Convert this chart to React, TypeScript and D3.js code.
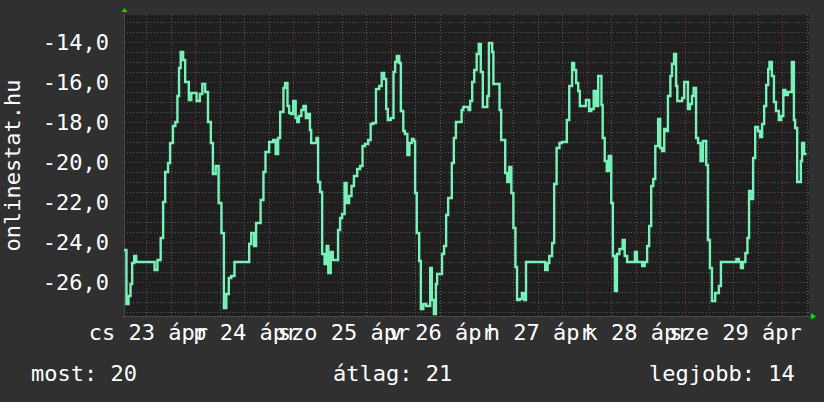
import React, { useRef, useEffect } from 'react';
import * as d3 from "d3";

// hours since the left edge of the graph (23 ápr 06:32) and the reading at that moment
const hours = [
  0, 0.6, 1.1, 1.6, 2.0, 2.5, 3.0, 7.5, 8.2, 9.0, 9.6, 10.1, 10.8, 11.3, 12.0, 12.6, 13.1, 13.5, 13.9, 14.5,
  15.0, 15.9, 16.5, 17.8, 18.6, 19.2, 19.9, 20.6, 21.3, 21.8, 22.5, 23.2, 23.9, 24.5, 25.1, 25.7, 26.3, 27.1,
  30.7, 31.2, 31.9, 32.4, 33.5, 34.2, 34.7, 35.6, 36.6, 37.2, 37.8, 38.3, 39.1, 39.5, 40.1, 40.5, 41.0, 41.5,
  42.1, 42.5, 42.9, 43.5, 44.0, 44.6, 45.1, 45.6, 45.9, 47.2, 47.6, 48.1, 48.6, 49.2, 49.7, 50.1, 50.7, 51.2,
  52.5, 53.0, 53.5, 54.1, 54.6, 55.2, 55.8, 56.4,
  57.2, 57.9, 58.5, 59.1, 59.9, 60.5, 61.1, 61.8, 62.6, 63.2, 63.8, 64.3, 64.7, 65.4, 66.1, 66.5, 66.9, 67.5,
  67.9, 68.5, 68.9, 69.5, 70.0, 70.6, 71.0, 71.4, 71.8, 72.4, 72.8, 73.4, 74.1, 75.1, 75.5, 76.0, 76.5, 76.8,
  78.0, 78.5, 79.0, 79.5, 80.4, 80.9, 81.4, 82.8, 83.2,
  84.5, 84.9, 85.4, 85.9, 86.5, 87.0, 87.5, 88.0, 89.1, 89.5, 90.3, 90.6, 92.1, 92.5, 93.5, 94.0, 94.5, 95.0,
  95.5, 96.0, 96.4, 97.0, 97.6, 98.2, 98.6, 103.3, 103.9, 104.3, 105.0, 105.5, 106.1, 106.8, 107.4, 108.6,
  109.2, 109.9, 110.4, 110.9, 111.4, 111.8,
  113.3, 114.1, 114.6, 115.2, 115.8, 116.3, 117.1, 117.4, 117.9, 118.4, 118.9, 119.5, 119.9, 120.4, 120.9,
  121.5, 122.3, 122.8, 123.4, 125.3, 125.8, 127.1, 127.7, 128.3, 128.8, 129.3, 129.8, 130.3, 131.0, 131.5,
  132.0, 132.5, 133.0, 133.4, 134.0, 134.4, 134.9, 135.4, 135.7, 136.9, 137.4, 138.3, 138.8, 139.3, 139.7,
  140.3, 140.8,
  141.4, 142.0, 142.8, 143.2, 143.7, 144.2, 145.0, 145.9, 146.4, 150.2, 150.8, 151.3, 151.8, 152.4, 152.9,
  153.3, 153.7, 154.3, 154.8, 155.5, 156.0, 156.5, 157.0, 157.5, 158.0, 158.3, 158.9, 159.4, 159.9, 160.6,
  161.2, 161.7, 162.2, 162.8, 163.8, 164.3, 164.6, 165.1, 166.0, 166.3, 166.8, 167.4,
];

const temps = [
  -24.4, -27.1, -26.7, -26.1, -25.05, -24.7, -25.0, -25.4, -24.9, -23.8, -22.0, -20.5, -20.05, -19.05, -18.2, -18.0, -16.7, -15.3, -14.5, -14.9,
  -16.0, -16.9, -16.55, -16.95, -16.6, -16.1, -16.5, -18.0, -19.05, -20.6, -20.2, -22.05, -23.55, -27.3, -26.6, -25.8, -25.7, -25.0,
  -24.1, -23.55, -24.2, -23.05, -21.9, -20.5, -19.5, -19.0, -18.9, -19.6, -18.8, -17.5, -16.3, -16.05, -17.2, -17.55, -17.6, -16.95,
  -17.8, -18.0, -17.7, -17.4, -17.2, -17.8, -17.6, -18.4, -19.05, -18.8, -21.0, -21.5, -24.6, -25.1, -24.2, -25.55, -24.5, -24.9,
  -23.4, -22.8, -22.6, -21.05, -22.05, -21.7, -21.2, -20.7,
  -20.35, -20.2, -19.2, -19.1, -18.9, -18.1, -18.05, -16.35, -16.2, -15.55, -15.85, -17.35, -17.9, -17.8, -15.5, -15.0, -14.7, -15.05,
  -17.45, -18.45, -18.6, -19.65, -19.05, -18.85, -18.95, -21.55, -23.55, -24.95, -27.35, -27.1, -27.2, -25.3, -26.9, -27.6, -26.1, -25.6,
  -24.6, -24.2, -22.65, -21.8, -20.05, -18.8, -18.0, -17.4, -17.25,
  -17.4, -16.95, -16.0, -15.4, -14.6, -14.1, -15.5, -17.25, -16.7, -14.05, -14.5, -16.1, -17.4, -18.9, -20.55, -21.0, -20.25, -21.55,
  -23.3, -25.25, -26.9, -26.85, -26.55, -26.9, -25.0, -25.4, -25.05, -24.7, -24.05, -21.1, -19.3, -19.05, -19.0, -17.9,
  -16.2, -15.05, -15.4, -16.05, -16.45, -17.2,
  -16.9, -17.45, -17.35, -16.45, -17.2, -15.7, -17.15, -18.8, -19.95, -20.45, -19.7, -22.05, -24.7, -26.45, -24.6,
  -24.35, -23.9, -24.7, -25.0, -24.5, -25.0, -25.2, -25.0, -24.2, -23.2, -21.2, -20.85, -19.2, -17.85, -19.3,
  -19.45, -18.35, -18.45, -16.7, -15.7, -15.1, -14.6, -16.2, -16.95, -16.8, -16.0, -17.35, -17.1, -16.7, -16.3,
  -18.8, -19.05,
  -19.95, -18.95, -20.15, -23.9, -25.3, -26.95, -26.55, -26.2, -25.0, -24.85, -25.0, -25.3, -25.0, -24.55, -23.8,
  -21.45, -21.85, -19.8, -18.25, -18.45, -18.75, -18.1, -17.2, -16.15, -15.35, -15.0, -15.7, -17.0, -17.45, -17.9,
  -17.7, -16.4, -16.65, -16.5, -15.0, -17.9, -18.3, -21.0, -19.95, -19.05, -19.6, -19.6,
];

const dayLabels = ["cs 23 ápr", "p 24 ápr", "szo 25 ápr", "v 26 ápr", "h 27 ápr", "k 28 ápr", "sze 29 ápr"];
const yTicks = [-26, -24, -22, -20, -18, -16, -14];
const legendNames = ["most", "átlag", "legjobb"];
const legendValues = [20, 21, 14];

const title = "onlinestat.hu";

const App = () => {
  const svgRef = useRef<SVGSVGElement>(null);

  useEffect(() => {
    if (!svgRef.current) return;
    const W = 824, H = 402;
    const left = 124, right = 809, top = 15, bottom = 316;
    const font = "'DejaVu Sans Mono', monospace";

    const svg = d3.select(svgRef.current);
    svg.selectAll("*").remove();
    svg.attr("width", W).attr("height", H);

    svg.append("rect").attr("width", W).attr("height", H).attr("fill", "#303030");
    svg.append("rect")
      .attr("x", left).attr("y", top)
      .attr("width", right - left).attr("height", bottom - top)
      .attr("fill", "#1f1f1f");

    const start = new Date(2015, 3, 23, 6, 32);
    const end = d3.timeHour.offset(start, 168);
    const x = d3.scaleTime().domain([start, end]).range([left, right]);
    const y = d3.scaleLinear().domain([-27.7, -12.65]).range([bottom, top]);

    const data = hours.map((h, i) => ({ date: new Date(start.getTime() + h * 3600e3), v: temps[i] }));

    const grid = svg.append("g").attr("shape-rendering", "crispEdges");

    // minor grid: every half degree, every 6 hours
    const minorY = d3.range(-27.5, -12.9, 0.5).filter(v => Math.abs(v % 2) !== 0);
    grid.selectAll(".hmin").data(minorY).join("line")
      .attr("x1", left).attr("x2", right)
      .attr("y1", d => Math.round(y(d)) + 0.5).attr("y2", d => Math.round(y(d)) + 0.5)
      .attr("stroke", "#585858").attr("stroke-dasharray", "1,2");
    const minorX = d3.timeHour.every(6)!.range(start, end).filter(d => d.getHours() !== 0);
    grid.selectAll(".vmin").data(minorX).join("line")
      .attr("x1", d => Math.round(x(d)) + 0.5).attr("x2", d => Math.round(x(d)) + 0.5)
      .attr("y1", top).attr("y2", bottom + 2)
      .attr("stroke", "#585858").attr("stroke-dasharray", "1,2");

    // major grid
    grid.selectAll(".hmaj").data(yTicks).join("line")
      .attr("x1", left - 2).attr("x2", right)
      .attr("y1", d => Math.round(y(d)) + 0.5).attr("y2", d => Math.round(y(d)) + 0.5)
      .attr("stroke", "#843a3a").attr("stroke-dasharray", "1,2");
    const days = d3.timeDay.range(start, end);
    grid.selectAll(".vmaj").data(days).join("line")
      .attr("x1", d => Math.round(x(d)) + 0.5).attr("x2", d => Math.round(x(d)) + 0.5)
      .attr("y1", top).attr("y2", bottom + 2)
      .attr("stroke", "#843a3a").attr("stroke-dasharray", "1,2");

    // axes
    grid.append("line")
      .attr("x1", left - 2).attr("x2", right + 2)
      .attr("y1", bottom + 0.5).attr("y2", bottom + 0.5)
      .attr("stroke", "#4a4a4a");
    grid.append("line")
      .attr("x1", left + 0.5).attr("x2", left + 0.5)
      .attr("y1", top - 2).attr("y2", bottom + 2)
      .attr("stroke", "#4a4a4a");

    // arrows
    svg.append("path")
      .attr("d", `M${left - 2.5},${top - 3} L${left + 3.5},${top - 3} L${left + 0.5},${top - 7} Z`)
      .attr("fill", "#00e000");
    svg.append("path")
      .attr("d", `M${right + 2},${bottom - 3} L${right + 2},${bottom + 3.5} L${right + 7},${bottom + 0.5} Z`)
      .attr("fill", "#00e000");

    // line
    svg.append("clipPath").attr("id", "plot-clip")
      .append("rect").attr("x", left).attr("y", top).attr("width", right - left).attr("height", bottom - top);
    svg.append("path")
      .datum(data)
      .attr("clip-path", "url(#plot-clip)")
      .attr("fill", "none")
      .attr("stroke", "#78f2b8")
      .attr("stroke-width", 2.4)
      .attr("stroke-linejoin", "miter")
      .attr("d", d3.line<{ date: Date; v: number }>()
        .curve(d3.curveStepAfter)
        .x(d => x(d.date))
        .y(d => y(d.v))
      );

    // y tick labels
    const fmt = (v: number) => d3.format(".1f")(v).replace("−", "-").replace(".", ",");
    svg.selectAll(".ylab").data(yTicks).join("text")
      .attr("x", 109).attr("y", d => y(d))
      .attr("dy", "0.37em")
      .attr("text-anchor", "end")
      .attr("fill", "#ffffff")
      .style("font-family", font).style("font-size", "22px")
      .text(d => fmt(d));

    // x labels, centred on noon of each day
    svg.selectAll(".xlab").data(dayLabels).join("text")
      .attr("x", (d, i) => x(d3.timeHour.offset(days[0], -12 + 24 * i)) + 2)
      .attr("y", 339.5)
      .attr("text-anchor", "middle")
      .attr("fill", "#ffffff")
      .style("font-family", font).style("font-size", "22px")
      .text(d => d);

    // vertical title
    svg.append("text")
      .attr("transform", `translate(19.5,${(top + bottom) / 2}) rotate(-90)`)
      .attr("text-anchor", "middle")
      .attr("fill", "#ffffff")
      .style("font-family", font).style("font-size", "22px")
      .text(title);

    // legend
    const legendX = [31, 333, 649];
    svg.selectAll(".leg").data(legendNames).join("text")
      .attr("x", (d, i) => legendX[i]).attr("y", 381)
      .attr("fill", "#ffffff")
      .style("font-family", font).style("font-size", "22px")
      .text((d, i) => `${d}: ${legendValues[i]}`);
  }, []);

  return (
    <div style={{ position: "absolute", left: 0, top: 0 }}>
      <svg ref={svgRef} style={{ display: "block" }}></svg>
    </div>
  );
};

export default App;
